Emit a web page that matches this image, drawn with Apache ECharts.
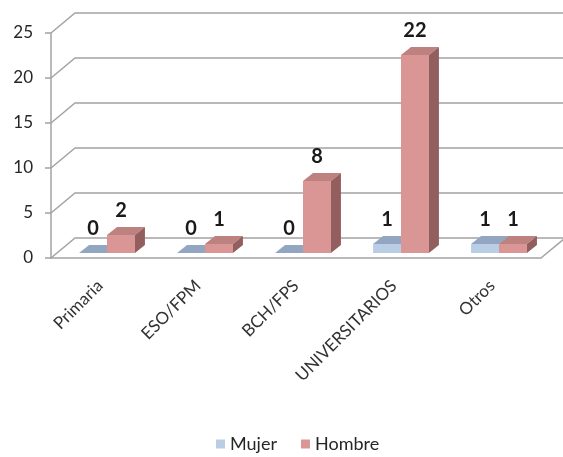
<!DOCTYPE html>
<html>
<head>
<meta charset="utf-8">
<script src="https://cdn.jsdelivr.net/npm/echarts@6/dist/echarts.min.js"></script>
<style>
  html, body { margin: 0; padding: 0; background: #fff; }
  #main { width: 563px; height: 457px; }
</style>
</head>
<body>
<div id="main"></div>
<script>
// datos del grafico
var categorias = ['Primaria', 'ESO/FPM', 'BCH/FPS', 'UNIVERSITARIOS', 'Otros'];
var mujer = [0, 0, 0, 1, 1];
var hombre = [2, 1, 8, 22, 1];
var ticksY = [0, 5, 10, 15, 20, 25];

// profundidad de la pared (efecto 3D)
var DX = 24, DY = -20;
// desplazamiento y fondo de las barras
var SX = 7, SY = -5, BX = 10, BY = -8;
var GRIS = '#a3a3a3';

var colores = {
    Mujer: { front: '#b9cde5', top: '#92a6c1', side: '#7b8ea8' },
    Hombre: { front: '#d99694', top: '#bd8180', side: '#925f5e' }
};

// paredes y lineas de division
function renderPared(params, api) {
    var v = api.value(1);
    var cs = params.coordSys;
    var y = api.coord([0, v])[1];
    var xl = cs.x, xr = cs.x + cs.width;
    var pts;
    if (v === 0) {
        pts = [[xl, y], [xl + DX, y + DY], [xr + DX, y + DY], [xr, y]];
    } else {
        pts = [[xl, y], [xl + DX, y + DY], [xr + DX, y + DY]];
    }
    return {
        type: 'polyline',
        shape: { points: pts },
        style: { stroke: GRIS, lineWidth: 1.5, fill: null }
    };
}

function hacerBarra(k, nombre) {
    var c = colores[nombre];
    return function (params, api) {
        var i = api.value(0), v = api.value(1);
        var base = api.coord([i, 0]);
        var top = api.coord([i, v]);
        var w = api.size([1, 0])[0] * 0.285;
        var x0 = base[0] + SX + (k === 0 ? -w : 0);
        var x1 = x0 + w;
        var yb = base[1] + SY, yt = top[1] + SY;
        return {
            type: 'group',
            children: [
                { type: 'rect', shape: { x: x0, y: yt, width: w, height: yb - yt }, style: { fill: c.front } },
                { type: 'polygon', shape: { points: [[x0, yt], [x1, yt], [x1 + BX, yt + BY], [x0 + BX, yt + BY]] }, style: { fill: c.top } },
                { type: 'polygon', shape: { points: [[x1, yt], [x1 + BX, yt + BY], [x1 + BX, yb + BY], [x1, yb]] }, style: { fill: c.side } },
                { type: 'text', style: { x: (x0 + x1) / 2, y: yt - 24, text: String(v), align: 'center', verticalAlign: 'middle',
                    fontFamily: 'Lato', fontWeight: 'bold', fontSize: 20, fill: '#1a1a1a' } }
            ]
        };
    };
}

var myChart = echarts.init(document.getElementById('main'));
myChart.setOption({
    animation: false,
    grid: { left: 51, right: 22, top: 33, bottom: 199 },
    legend: {
        left: 211, top: 430,
        icon: 'rect', itemWidth: 9, itemHeight: 9, itemGap: 24,
        textStyle: { fontFamily: 'Lato', fontSize: 18, color: '#262626' },
        data: ['Mujer', 'Hombre']
    },
    xAxis: {
        type: 'category',
        data: categorias,
        axisLine: { lineStyle: { color: GRIS, width: 1.5 } },
        axisTick: { length: 8, lineStyle: { color: GRIS, width: 1.5 } },
        axisLabel: { rotate: 45, margin: 25, fontFamily: 'Lato', fontSize: 17, color: '#333' }
    },
    yAxis: {
        type: 'value', min: 0, max: 25, interval: 5,
        axisLine: { show: true, lineStyle: { color: GRIS, width: 1.5 } },
        axisTick: { show: true, length: 6, lineStyle: { color: GRIS, width: 1.5 } },
        splitLine: { show: false },
        axisLabel: { margin: 18, fontFamily: 'Lato', fontSize: 17, color: '#262626' }
    },
    series: [
        {
            name: 'pared', type: 'custom', silent: true, z: 1,
            renderItem: renderPared,
            data: ticksY.map(function (v) { return [0, v]; }),
            encode: { x: 0, y: 1 }
        },
        {
            name: 'Mujer', type: 'custom', z: 2,
            itemStyle: { color: colores.Mujer.front },
            renderItem: hacerBarra(0, 'Mujer'),
            data: mujer.map(function (v, i) { return [i, v]; }),
            encode: { x: 0, y: 1 }
        },
        {
            name: 'Hombre', type: 'custom', z: 3,
            itemStyle: { color: colores.Hombre.front },
            renderItem: hacerBarra(1, 'Hombre'),
            data: hombre.map(function (v, i) { return [i, v]; }),
            encode: { x: 0, y: 1 }
        }
    ]
});
</script>
</body>
</html>
